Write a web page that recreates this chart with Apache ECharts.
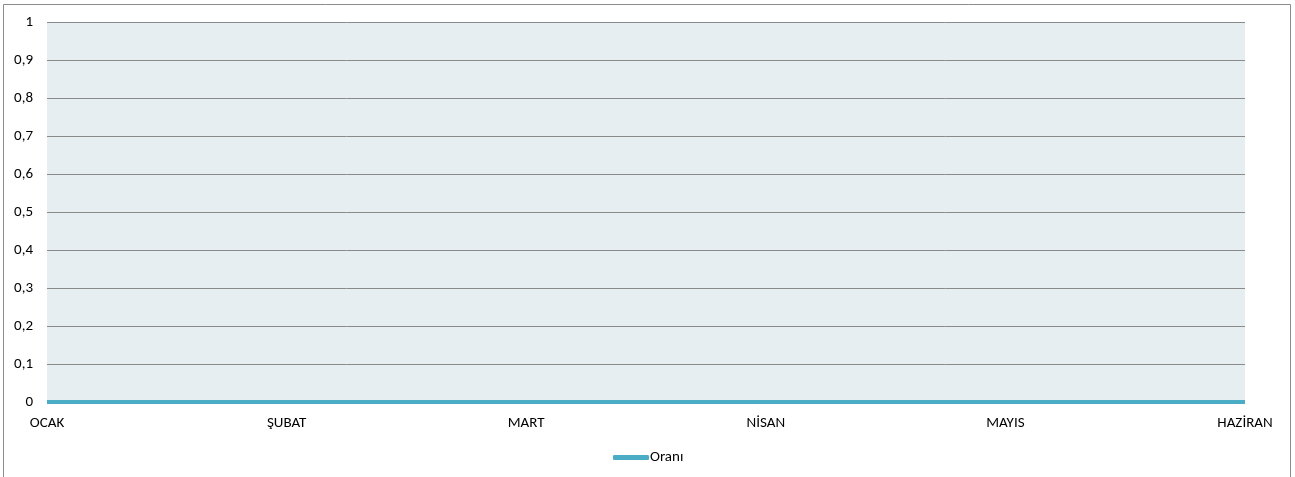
<!DOCTYPE html>
<html>
<head>
<meta charset="utf-8">
<script src="https://cdn.jsdelivr.net/npm/echarts@6/dist/echarts.min.js"></script>
<style>
  html, body { margin: 0; padding: 0; background: #fff; }
  #chart { width: 1295px; height: 477px; }
</style>
</head>
<body>
<div id="chart"></div>
<script>
// Monthly ratio, January to June
const months = ['OCAK', 'ŞUBAT', 'MART', 'NİSAN', 'MAYIS', 'HAZİRAN'];
const oraniValues = [0, 0, 0, 0, 0, 0];
const seriesName = 'Oranı';
const yMin = 0, yMax = 1, yStep = 0.1;

const chart = echarts.init(document.getElementById('chart'));
const font = 'Carlito, "Open Sans", "Noto Sans", sans-serif';

chart.setOption({
  backgroundColor: '#ffffff',
  animation: false,
  graphic: [{
    type: 'rect',
    shape: { x: 3.5, y: 4.5, width: 1287, height: 490 },
    style: { fill: 'none', stroke: '#8c8c8c', lineWidth: 1 },
    silent: true
  }],
  grid: {
    left: 47, right: 50, top: 22, bottom: 75,
    show: true, backgroundColor: '#E7EEF2', borderWidth: 0
  },
  legend: {
    data: [{ name: seriesName, icon: 'roundRect' }],
    top: 445,
    left: 608,
    itemWidth: 36, itemHeight: 5, itemGap: 0,
    textStyle: { fontFamily: font, fontSize: 15, color: '#000', padding: [0, 0, 0, -4] }
  },
  xAxis: {
    type: 'category',
    data: months,
    boundaryGap: false,
    axisLine: { show: false },
    axisTick: { show: false },
    axisLabel: { fontFamily: font, fontSize: 15, color: '#000', margin: 14, interval: 0 },
    splitLine: { show: false }
  },
  yAxis: {
    type: 'value',
    min: yMin, max: yMax, interval: yStep,
    axisLine: { show: false },
    axisTick: { show: false },
    axisLabel: {
      fontFamily: font, fontSize: 15, color: '#000', margin: 14,
      formatter: v => String(Math.round(v * 10) / 10).replace('.', ',')
    },
    splitLine: { lineStyle: { color: '#8a8a8a', width: 1 } }
  },
  series: [{
    name: seriesName,
    type: 'line',
    data: oraniValues,
    symbol: 'none',
    lineStyle: { color: '#4BACC6', width: 4 },
    itemStyle: { color: '#4BACC6' }
  }]
});
</script>
</body>
</html>
